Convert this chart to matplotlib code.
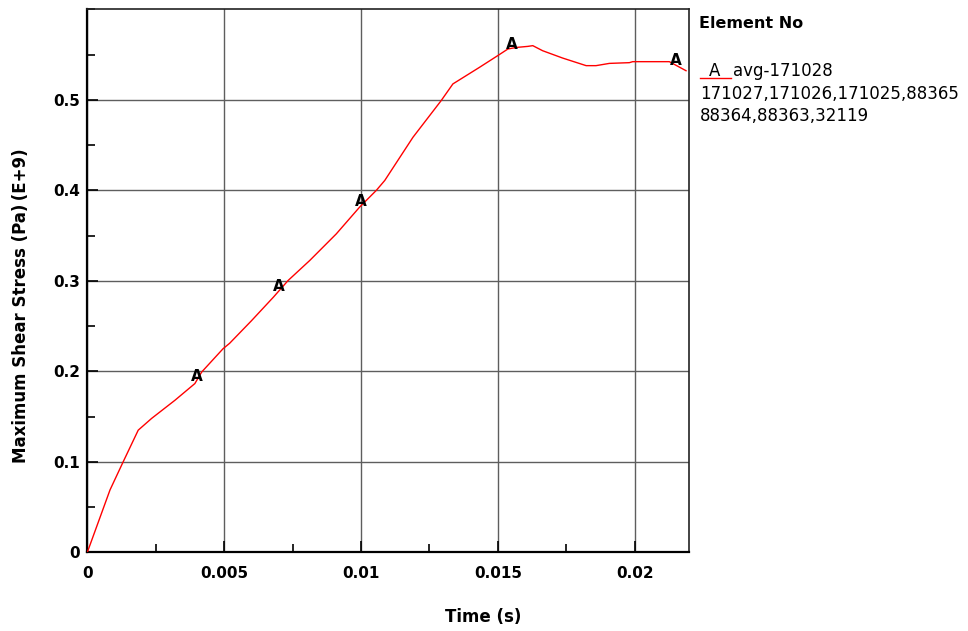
import numpy as np
import matplotlib
matplotlib.use("Agg")
import matplotlib.pyplot as plt
from matplotlib.lines import Line2D
from matplotlib.ticker import MultipleLocator

# Averaged maximum shear stress history (E+9 Pa) versus time (s)
time_s = [0.0, 0.00083, 0.00131, 0.00186, 0.00235, 0.0032, 0.00393, 0.00418,
          0.00496, 0.0052, 0.0060, 0.0068, 0.00734, 0.00813, 0.0091, 0.00995,
          0.01056, 0.01087, 0.0119, 0.01293, 0.01336, 0.01433, 0.0150, 0.01537,
          0.01567, 0.0161, 0.01628, 0.01664, 0.01737, 0.01823, 0.01859, 0.01908,
          0.01981, 0.01993, 0.02127, 0.02188]
stress = [0.0, 0.069, 0.100, 0.135, 0.148, 0.168, 0.1865, 0.1993,
          0.225, 0.231, 0.256, 0.282, 0.3005, 0.3226, 0.352, 0.3815,
          0.400, 0.411, 0.4587, 0.4992, 0.5177, 0.536, 0.549, 0.5563,
          0.558, 0.5592, 0.560, 0.5544, 0.5463, 0.5379, 0.5379, 0.5404,
          0.5412, 0.5423, 0.5423, 0.5323]

# Times where the curve symbol "A" is stamped
symbol_times = [0.0040, 0.0070, 0.0100, 0.0155, 0.0215]

x_ticks = [0, 0.005, 0.01, 0.015, 0.02]
x_tick_labels = ["0", "0.005", "0.01", "0.015", "0.02"]
y_ticks = [0, 0.1, 0.2, 0.3, 0.4, 0.5]
y_tick_labels = ["0", "0.1", "0.2", "0.3", "0.4", "0.5"]

legend_title = "Element No"
legend_lines = ["avg-171028", "171027,171026,171025,88365", "88364,88363,32119"]

plt.rcParams["font.family"] = ["DejaVu Sans"]

fig = plt.figure(figsize=(9.68, 6.31), dpi=100)
ax = fig.add_axes([0.0902, 0.1247, 0.6219, 0.8603])

ax.plot(time_s, stress, color="#ff0000", lw=1.0, zorder=3)

for t in symbol_times:
    v = np.interp(t, time_s, stress)
    ax.annotate("A", (t, v), xytext=(0, 3), textcoords="offset points",
                ha="center", va="center", fontsize=11, fontweight="bold",
                color="black", zorder=4)

ax.set_xlim(0, 0.022)
ax.set_ylim(0, 0.6)
ax.set_xticks(x_ticks)
ax.set_xticklabels(x_tick_labels)
ax.set_yticks(y_ticks)
ax.set_yticklabels(y_tick_labels)
ax.xaxis.set_minor_locator(MultipleLocator(0.0025))
ax.yaxis.set_minor_locator(MultipleLocator(0.05))

ax.tick_params(which="major", direction="in", length=8, width=1.2, color="black",
               labelsize=11)
ax.tick_params(axis="x", which="major", pad=10)
ax.tick_params(axis="y", which="major", pad=5)
ax.tick_params(which="minor", direction="in", length=6, width=1.2, color="black")
for lab in ax.get_xticklabels() + ax.get_yticklabels():
    lab.set_fontweight("bold")

ax.grid(True, which="major", color="#5e5e5e", lw=1.0, zorder=0)
for side in ["left", "bottom"]:
    ax.spines[side].set_linewidth(1.6)
    ax.spines[side].set_color("black")
for side in ["top", "right"]:
    ax.spines[side].set_linewidth(1.2)
    ax.spines[side].set_color("#222222")

fig.text(0.0215, 0.515, "Maximum Shear Stress (Pa)\u2009(E+9)", rotation=90,
         ha="center", va="center", fontsize=12, fontweight="bold")
fig.text(0.499, 0.022, "Time (s)", ha="center", va="center",
         fontsize=12, fontweight="bold")

# Legend block beside the axes
fig.text(0.7225, 0.962, legend_title, ha="left", va="center",
         fontsize=11.5, fontweight="bold")
fig.add_artist(Line2D([700 / 968, 731 / 968], [1 - 78 / 631, 1 - 78 / 631],
                      color="#ff0000", lw=1.0, transform=fig.transFigure))
fig.text(715 / 968, 1 - 71 / 631, "A", ha="center", va="center", fontsize=12)
fig.text(733 / 968, 1 - 71 / 631, legend_lines[0], ha="left", va="center", fontsize=12)
fig.text(700 / 968, 1 - 94 / 631, legend_lines[1], ha="left", va="center", fontsize=12)
fig.text(700 / 968, 1 - 116 / 631, legend_lines[2], ha="left", va="center", fontsize=12)

fig.savefig("out.png", dpi=100, facecolor="white")
